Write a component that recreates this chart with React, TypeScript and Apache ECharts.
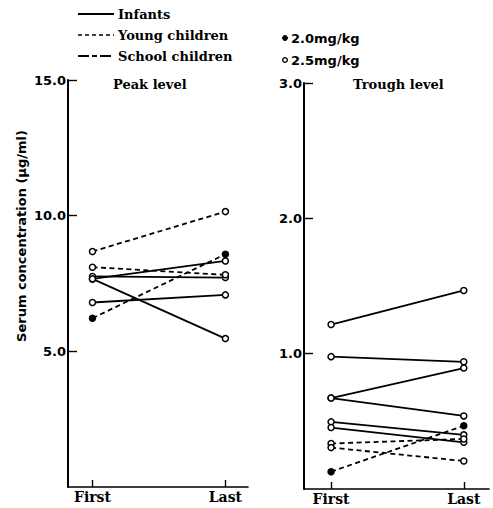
import React, { useEffect, useRef } from "react";
import * as echarts from "echarts";

const categories = ["First", "Last"];

// Peak level (µg/ml)
const peakFirst = [7.67, 7.76, 7.67, 6.8, 8.68, 8.1, 6.22];
const peakLast = [8.33, 7.72, 5.47, 7.08, 10.15, 7.82, 8.58];
const peakGroup = ["Infants", "Infants", "Infants", "Infants", "Young children", "Young children", "Young children"];
const peakDose = ["2.5", "2.5", "2.5", "2.5", "2.5", "2.5", "2.0"];

// Trough level (µg/ml)
const troughFirst = [1.215, 0.978, 0.672, 0.672, 0.496, 0.454, 0.336, 0.306, 0.128];
const troughLast = [1.467, 0.94, 0.894, 0.54, 0.4, 0.345, 0.37, 0.207, 0.467];
const troughGroup = ["Infants", "Infants", "Infants", "Infants", "Infants", "Infants", "Young children", "Young children", "Young children"];
const troughDose = ["2.5", "2.5", "2.5", "2.5", "2.5", "2.5", "2.5", "2.5", "2.0"];

const peakTicks = [5, 10, 15];
const troughTicks = [1, 2, 3];

const SERIF = "'DejaVu Serif', 'Liberation Serif', serif";
const SANS = "'DejaVu Sans', 'Liberation Sans', sans-serif";

function lineType(group: string): any {
  if (group === "Young children") return [5, 3.5];
  if (group === "School children") return [10, 3, 4, 3];
  return "solid";
}

function buildSeries(first: number[], last: number[], group: string[], dose: string[], idx: number) {
  return first.map((f, i) => ({
    type: "line",
    xAxisIndex: idx,
    yAxisIndex: idx,
    data: [
      [0, f],
      [1, last[i]],
    ],
    symbol: "circle",
    symbolSize: 6,
    showSymbol: true,
    lineStyle: { color: "#000", width: 1.8, type: lineType(group[i]) },
    itemStyle: {
      color: dose[i] === "2.0" ? "#000" : "#fff",
      borderColor: "#000",
      borderWidth: 1.5,
    },
    emphasis: { disabled: true },
    z: 3,
  }));
}

function xAxisCfg(idx: number, min: number, max: number) {
  return {
    type: "value",
    gridIndex: idx,
    min,
    max,
    axisLine: { show: true, onZero: false, lineStyle: { color: "#000", width: 1.6 } },
    axisTick: {
      show: true,
      inside: true,
      length: 7,
      customValues: [0, 1],
      lineStyle: { color: "#000", width: 1.4 },
    },
    axisLabel: {
      show: true,
      customValues: [0, 1],
      formatter: (v: number) => (Math.abs(v) < 1e-6 ? categories[0] : categories[1]),
      color: "#000",
      fontFamily: SERIF,
      fontWeight: "bold",
      fontSize: 14,
      margin: 3,
    },
    splitLine: { show: false },
  };
}

function yAxisCfg(idx: number, max: number, ticks: number[]) {
  return {
    type: "value",
    gridIndex: idx,
    min: 0,
    max,
    axisLine: { show: true, onZero: false, lineStyle: { color: "#000", width: 2 } },
    axisTick: {
      show: true,
      inside: true,
      length: 9,
      customValues: ticks,
      lineStyle: { color: "#000", width: 1.4 },
    },
    axisLabel: {
      show: true,
      customValues: ticks,
      formatter: (v: number) => v.toFixed(1),
      color: "#000",
      fontFamily: SANS,
      fontWeight: "bold",
      fontSize: 13,
      margin: 2,
    },
    splitLine: { show: false },
  };
}

export default function App() {
  const ref = useRef<HTMLDivElement>(null);

  useEffect(() => {
    if (!ref.current) return;
    const chart = echarts.init(ref.current, undefined, { renderer: "svg" });
    const legendText = {
      fill: "#000",
      fontFamily: SERIF,
      fontWeight: "bold",
      fontSize: 13,
      textVerticalAlign: "middle",
    };
    chart.setOption({
      animation: false,
      backgroundColor: "#fff",
      grid: [
        { left: 68, top: 80, width: 180, height: 407 },
        { left: 304, top: 83, width: 185, height: 406 },
      ],
      xAxis: [xAxisCfg(0, -0.184, 1.17), xAxisCfg(1, -0.204, 1.19)],
      yAxis: [yAxisCfg(0, 15, peakTicks), yAxisCfg(1, 3, troughTicks)],
      series: [
        ...buildSeries(peakFirst, peakLast, peakGroup, peakDose, 0),
        ...buildSeries(troughFirst, troughLast, troughGroup, troughDose, 1),
      ],
      graphic: [
        { type: "line", shape: { x1: 78, y1: 14, x2: 114, y2: 14 }, style: { stroke: "#000", lineWidth: 2 } },
        { type: "line", shape: { x1: 78, y1: 35, x2: 114, y2: 35 }, style: { stroke: "#000", lineWidth: 1.6, lineDash: [4, 3] } },
        { type: "line", shape: { x1: 78, y1: 56, x2: 114, y2: 56 }, style: { stroke: "#000", lineWidth: 2, lineDash: [11, 3, 5, 3] } },
        { type: "text", x: 118, y: 14, style: { ...legendText, text: "Infants" } },
        { type: "text", x: 118, y: 35, style: { ...legendText, text: "Young children" } },
        { type: "text", x: 118, y: 56, style: { ...legendText, text: "School children" } },
        { type: "circle", shape: { cx: 285, cy: 38, r: 2.5 }, style: { fill: "#000", stroke: "#000", lineWidth: 1 } },
        { type: "circle", shape: { cx: 285, cy: 60, r: 2.3 }, style: { fill: "#fff", stroke: "#000", lineWidth: 1.4 } },
        { type: "text", x: 291, y: 38, style: { ...legendText, fontFamily: SANS, fontSize: 13, text: "2.0mg/kg" } },
        { type: "text", x: 291, y: 60, style: { ...legendText, fontFamily: SANS, fontSize: 13, text: "2.5mg/kg" } },
        { type: "text", x: 113, y: 84, style: { ...legendText, text: "Peak level" } },
        { type: "text", x: 353, y: 84, style: { ...legendText, text: "Trough level" } },
        {
          type: "text",
          x: 21,
          y: 236,
          rotation: Math.PI / 2,
          style: {
            ...legendText,
            fontFamily: SANS,
            fontSize: 13,
            textAlign: "center",
            text: "Serum concentration (μg/ml)",
          },
        },
      ],
    });
    return () => chart.dispose();
  }, []);

  return (
    <div
      ref={ref}
      style={{ position: "fixed", left: 0, top: 0, width: 493, height: 508 }}
    />
  );
}
